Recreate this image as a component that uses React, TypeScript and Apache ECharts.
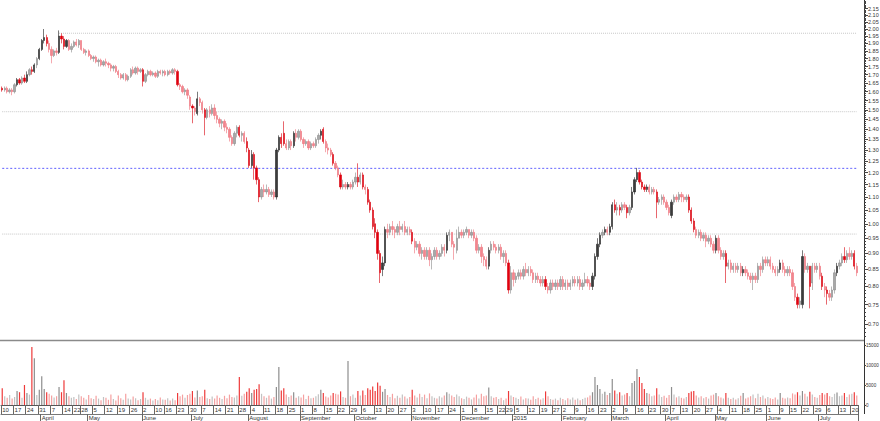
import React, { useEffect, useRef } from "react";
import * as echarts from "echarts";

// ---- calendar (ASX trading days) ----
const START_DATE = "2014-03-10";
const END_DATE = "2015-07-22";
const holidays = [
  "2014-04-18", "2014-04-21", "2014-04-25", "2014-06-09", "2014-12-25", "2014-12-26",
  "2015-01-01", "2015-01-26", "2015-04-03", "2015-04-06", "2015-06-08",
];
const monthNames = ["2015", "February", "March", "April", "May", "June", "July", "August", "September", "October", "November", "December"];

// ---- price data (one row per week) ----
const openP = [
  1.62, 1.61, 1.62, 1.60, 1.61,
  1.60, 1.64, 1.67, 1.65, 1.68,
  1.66, 1.70, 1.73, 1.72, 1.76,
  1.80, 1.86, 1.92, 1.94, 1.90,
  1.86, 1.82, 1.85, 1.84, 1.95,
  1.93, 1.88, 1.92, 1.86,
  1.88, 1.91, 1.89,
  1.92, 1.86, 1.84, 1.85, 1.82,
  1.80, 1.81, 1.78, 1.79, 1.76,
  1.78, 1.77, 1.76, 1.74, 1.75,
  1.72, 1.70, 1.68, 1.70, 1.67,
  1.69, 1.73, 1.71, 1.74, 1.72,
  1.73, 1.66, 1.70, 1.72, 1.70,
  1.71, 1.69, 1.72, 1.71,
  1.72, 1.70, 1.72, 1.71, 1.73,
  1.72, 1.64, 1.63, 1.60, 1.61,
  1.57, 1.52, 1.51, 1.48, 1.56,
  1.54, 1.50, 1.46, 1.50, 1.48,
  1.51, 1.47, 1.45, 1.43, 1.44,
  1.41, 1.40, 1.36, 1.33, 1.38,
  1.41, 1.37, 1.38, 1.34, 1.30,
  1.23, 1.28, 1.22, 1.17, 1.10,
  1.13, 1.12, 1.13, 1.11, 1.12,
  1.10, 1.30, 1.36, 1.38, 1.33,
  1.31, 1.34, 1.32, 1.38, 1.36,
  1.39, 1.35, 1.33, 1.34, 1.31,
  1.33, 1.32, 1.35, 1.37, 1.40,
  1.34, 1.31, 1.30, 1.28, 1.24,
  1.22, 1.19, 1.14, 1.15, 1.14,
  1.15, 1.14, 1.16, 1.18, 1.16,
  1.19, 1.14, 1.13, 1.08, 1.05,
  1.00, 0.97, 0.90, 0.85, 0.87,
  0.98, 0.97, 0.99, 0.98, 0.97,
  0.99, 0.98, 0.99, 0.97, 0.98,
  0.97, 0.94, 0.92, 0.93, 0.90,
  0.91, 0.89, 0.91, 0.88, 0.89,
  0.91, 0.89, 0.90, 0.92, 0.91,
  0.96, 0.97, 0.93, 0.91, 0.95,
  0.97, 0.96, 0.97, 0.98, 0.96,
  0.97, 0.95, 0.91, 0.92, 0.89,
  0.88, 0.86, 0.91, 0.93, 0.92,
  0.91, 0.92, 0.89,
  0.90, 0.87, 0.79, 0.84,
  0.82, 0.83, 0.84, 0.83, 0.85,
  0.84, 0.85, 0.84, 0.82, 0.83,
  0.82, 0.81, 0.82, 0.80, 0.79,
  0.81, 0.80, 0.81, 0.80,
  0.82, 0.80, 0.81, 0.80, 0.81,
  0.82, 0.81, 0.82, 0.80, 0.81,
  0.82, 0.81, 0.80, 0.83, 0.89,
  0.93, 0.96, 0.97, 0.98, 0.97,
  0.99, 1.07, 1.05, 1.06, 1.05,
  1.07, 1.06, 1.04, 1.06, 1.12,
  1.17, 1.20, 1.16, 1.14, 1.13,
  1.14, 1.12, 1.13, 1.12, 1.08,
  1.09, 1.10, 1.08, 1.06,
  1.03, 1.08, 1.10, 1.09,
  1.11, 1.10, 1.09, 1.10, 1.05,
  1.01, 0.98, 0.96, 0.97, 0.95,
  0.96, 0.94, 0.95, 0.93, 0.91,
  0.95, 0.91, 0.89, 0.90, 0.86,
  0.87, 0.85, 0.86, 0.85, 0.86,
  0.84, 0.85, 0.84, 0.83, 0.82,
  0.83, 0.82, 0.86, 0.85, 0.88,
  0.87, 0.88, 0.86, 0.85, 0.84,
  0.85, 0.87, 0.85, 0.84,
  0.85, 0.84, 0.80, 0.77, 0.75,
  0.75, 0.89, 0.85, 0.86, 0.81,
  0.86, 0.85, 0.86, 0.83, 0.80,
  0.79, 0.78, 0.77, 0.79, 0.84,
  0.86, 0.87, 0.89, 0.88, 0.90,
  0.89, 0.90, 0.86,
];
const closeP = [
  1.61, 1.62, 1.60, 1.61, 1.60,
  1.64, 1.67, 1.65, 1.68, 1.66,
  1.70, 1.73, 1.72, 1.76, 1.80,
  1.86, 1.92, 1.94, 1.90, 1.86,
  1.82, 1.85, 1.84, 1.95, 1.93,
  1.88, 1.92, 1.86, 1.88,
  1.91, 1.89, 1.92,
  1.86, 1.84, 1.85, 1.82, 1.80,
  1.81, 1.78, 1.79, 1.76, 1.78,
  1.77, 1.76, 1.74, 1.75, 1.72,
  1.70, 1.68, 1.70, 1.67, 1.69,
  1.73, 1.71, 1.74, 1.72, 1.73,
  1.66, 1.70, 1.72, 1.70, 1.71,
  1.69, 1.72, 1.71, 1.72,
  1.70, 1.72, 1.71, 1.73, 1.72,
  1.64, 1.63, 1.60, 1.61, 1.58,
  1.52, 1.51, 1.49, 1.56, 1.54,
  1.50, 1.46, 1.50, 1.48, 1.51,
  1.47, 1.45, 1.43, 1.44, 1.41,
  1.40, 1.36, 1.33, 1.38, 1.41,
  1.37, 1.38, 1.34, 1.31, 1.23,
  1.28, 1.22, 1.17, 1.10, 1.13,
  1.12, 1.13, 1.11, 1.12, 1.10,
  1.30, 1.36, 1.33, 1.33, 1.31,
  1.34, 1.32, 1.38, 1.36, 1.39,
  1.35, 1.33, 1.34, 1.31, 1.33,
  1.32, 1.35, 1.37, 1.39, 1.34,
  1.31, 1.30, 1.28, 1.24, 1.22,
  1.19, 1.14, 1.15, 1.14, 1.15,
  1.14, 1.16, 1.18, 1.16, 1.19,
  1.14, 1.13, 1.08, 1.05, 0.99,
  0.97, 0.90, 0.84, 0.87, 0.98,
  0.97, 0.99, 0.98, 0.97, 0.99,
  0.98, 0.99, 0.97, 0.98, 0.97,
  0.94, 0.92, 0.93, 0.90, 0.91,
  0.89, 0.91, 0.88, 0.89, 0.91,
  0.89, 0.90, 0.92, 0.91, 0.96,
  0.97, 0.93, 0.92, 0.95, 0.97,
  0.96, 0.97, 0.98, 0.96, 0.97,
  0.95, 0.91, 0.92, 0.89, 0.88,
  0.86, 0.91, 0.93, 0.92, 0.91,
  0.92, 0.89, 0.90,
  0.87, 0.79, 0.84, 0.82,
  0.83, 0.84, 0.83, 0.85, 0.84,
  0.85, 0.84, 0.82, 0.83, 0.82,
  0.81, 0.82, 0.80, 0.79, 0.81,
  0.80, 0.81, 0.80, 0.82,
  0.80, 0.81, 0.80, 0.81, 0.82,
  0.81, 0.82, 0.80, 0.81, 0.82,
  0.81, 0.80, 0.83, 0.89, 0.93,
  0.96, 0.97, 0.98, 0.97, 0.99,
  1.07, 1.05, 1.06, 1.05, 1.07,
  1.06, 1.04, 1.06, 1.12, 1.17,
  1.20, 1.16, 1.14, 1.13, 1.14,
  1.12, 1.13, 1.12, 1.08, 1.09,
  1.10, 1.08, 1.06, 1.04,
  1.08, 1.10, 1.09, 1.11,
  1.10, 1.09, 1.10, 1.05, 1.01,
  0.98, 0.96, 0.97, 0.95, 0.96,
  0.94, 0.95, 0.93, 0.91, 0.95,
  0.91, 0.89, 0.90, 0.86, 0.87,
  0.85, 0.86, 0.85, 0.86, 0.84,
  0.85, 0.84, 0.83, 0.82, 0.83,
  0.82, 0.86, 0.85, 0.88, 0.87,
  0.88, 0.86, 0.85, 0.84, 0.85,
  0.87, 0.85, 0.84, 0.85,
  0.84, 0.80, 0.77, 0.75, 0.76,
  0.89, 0.85, 0.86, 0.80, 0.86,
  0.85, 0.86, 0.83, 0.80, 0.79,
  0.78, 0.77, 0.79, 0.84, 0.86,
  0.87, 0.89, 0.88, 0.90, 0.89,
  0.90, 0.86, 0.84,
];
const lowP = [
  1.60, 1.60, 1.59, 1.59, 1.58,
  1.59, 1.63, 1.64, 1.64, 1.65,
  1.65, 1.69, 1.70, 1.71, 1.74,
  1.79, 1.85, 1.90, 1.88, 1.84,
  1.77, 1.81, 1.82, 1.83, 1.90,
  1.86, 1.87, 1.85, 1.84,
  1.87, 1.88, 1.87,
  1.85, 1.83, 1.82, 1.81, 1.79,
  1.78, 1.77, 1.75, 1.75, 1.75,
  1.75, 1.74, 1.72, 1.72, 1.71,
  1.68, 1.67, 1.67, 1.66, 1.66,
  1.68, 1.70, 1.70, 1.70, 1.71,
  1.63, 1.65, 1.69, 1.69, 1.69,
  1.68, 1.68, 1.70, 1.69,
  1.69, 1.69, 1.70, 1.70, 1.70,
  1.63, 1.61, 1.59, 1.58, 1.56,
  1.50, 1.43, 1.47, 1.47, 1.52,
  1.48, 1.37, 1.45, 1.46, 1.47,
  1.45, 1.43, 1.41, 1.40, 1.39,
  1.38, 1.34, 1.32, 1.32, 1.36,
  1.36, 1.34, 1.33, 1.29, 1.22,
  1.22, 1.17, 1.15, 1.08, 1.09,
  1.10, 1.11, 1.10, 1.10, 1.09,
  1.09, 1.29, 1.31, 1.32, 1.30,
  1.30, 1.30, 1.31, 1.34, 1.35,
  1.34, 1.31, 1.32, 1.30, 1.30,
  1.31, 1.31, 1.33, 1.35, 1.33,
  1.29, 1.28, 1.27, 1.23, 1.21,
  1.18, 1.13, 1.13, 1.13, 1.13,
  1.13, 1.13, 1.15, 1.14, 1.15,
  1.13, 1.11, 1.07, 1.04, 0.98,
  0.95, 0.88, 0.81, 0.83, 0.86,
  0.95, 0.96, 0.96, 0.95, 0.96,
  0.96, 0.97, 0.96, 0.96, 0.96,
  0.93, 0.90, 0.91, 0.89, 0.88,
  0.88, 0.88, 0.86, 0.85, 0.88,
  0.88, 0.88, 0.89, 0.89, 0.90,
  0.94, 0.92, 0.88, 0.90, 0.95,
  0.95, 0.95, 0.96, 0.95, 0.95,
  0.94, 0.90, 0.90, 0.87, 0.86,
  0.85, 0.85, 0.90, 0.91, 0.90,
  0.90, 0.88, 0.87,
  0.86, 0.78, 0.78, 0.80,
  0.81, 0.82, 0.82, 0.82, 0.83,
  0.83, 0.83, 0.81, 0.81, 0.81,
  0.80, 0.80, 0.79, 0.78, 0.78,
  0.79, 0.79, 0.79, 0.79,
  0.79, 0.79, 0.79, 0.79, 0.80,
  0.80, 0.80, 0.79, 0.79, 0.80,
  0.80, 0.79, 0.79, 0.82, 0.88,
  0.92, 0.95, 0.96, 0.96, 0.96,
  0.98, 1.04, 1.03, 1.03, 1.04,
  1.05, 1.02, 1.03, 1.05, 1.11,
  1.16, 1.15, 1.13, 1.12, 1.12,
  1.11, 1.11, 1.11, 1.02, 1.07,
  1.07, 1.07, 1.05, 1.03,
  1.02, 1.07, 1.08, 1.08,
  1.08, 1.08, 1.08, 1.04, 1.00,
  0.97, 0.95, 0.95, 0.94, 0.94,
  0.92, 0.93, 0.92, 0.90, 0.90,
  0.90, 0.88, 0.88, 0.81, 0.85,
  0.84, 0.84, 0.84, 0.84, 0.83,
  0.83, 0.83, 0.82, 0.81, 0.79,
  0.81, 0.81, 0.83, 0.84, 0.86,
  0.86, 0.85, 0.84, 0.83, 0.83,
  0.84, 0.84, 0.83, 0.83,
  0.83, 0.79, 0.76, 0.74, 0.74,
  0.74, 0.84, 0.84, 0.74, 0.79,
  0.84, 0.84, 0.82, 0.79, 0.77,
  0.75, 0.76, 0.76, 0.78, 0.83,
  0.85, 0.86, 0.87, 0.87, 0.88,
  0.88, 0.85, 0.83,
];
const highP = [
  1.63, 1.63, 1.63, 1.62, 1.62,
  1.65, 1.68, 1.68, 1.69, 1.70,
  1.72, 1.74, 1.75, 1.77, 1.81,
  1.87, 1.93, 2.00, 1.96, 1.92,
  1.88, 1.86, 1.87, 1.99, 1.97,
  1.95, 1.93, 1.93, 1.90,
  1.92, 1.93, 1.93,
  1.92, 1.87, 1.86, 1.86, 1.83,
  1.82, 1.82, 1.80, 1.80, 1.79,
  1.80, 1.78, 1.77, 1.76, 1.76,
  1.73, 1.71, 1.71, 1.71, 1.70,
  1.74, 1.75, 1.75, 1.75, 1.74,
  1.74, 1.71, 1.73, 1.73, 1.72,
  1.72, 1.73, 1.73, 1.73,
  1.73, 1.73, 1.73, 1.74, 1.74,
  1.73, 1.65, 1.64, 1.62, 1.62,
  1.58, 1.53, 1.52, 1.60, 1.57,
  1.55, 1.51, 1.51, 1.52, 1.53,
  1.53, 1.49, 1.46, 1.45, 1.45,
  1.43, 1.41, 1.37, 1.39, 1.42,
  1.42, 1.39, 1.39, 1.36, 1.31,
  1.30, 1.29, 1.23, 1.18, 1.14,
  1.15, 1.15, 1.14, 1.13, 1.13,
  1.31, 1.37, 1.38, 1.44, 1.35,
  1.35, 1.35, 1.39, 1.40, 1.40,
  1.40, 1.36, 1.35, 1.35, 1.34,
  1.34, 1.36, 1.38, 1.40, 1.41,
  1.35, 1.33, 1.31, 1.29, 1.25,
  1.23, 1.20, 1.17, 1.16, 1.16,
  1.16, 1.17, 1.20, 1.24, 1.20,
  1.20, 1.15, 1.14, 1.09, 1.06,
  1.02, 0.98, 0.91, 0.89, 0.99,
  1.00, 1.00, 1.01, 0.99, 1.00,
  1.01, 1.00, 1.01, 0.99, 0.99,
  0.98, 0.95, 0.94, 0.94, 0.92,
  0.92, 0.92, 0.92, 0.90, 0.92,
  0.92, 0.91, 0.93, 0.93, 0.97,
  0.98, 0.97, 0.94, 0.98, 0.99,
  0.98, 0.98, 0.99, 0.98, 0.98,
  0.98, 0.96, 0.93, 0.93, 0.90,
  0.89, 0.92, 0.94, 0.94, 0.93,
  0.93, 0.93, 0.91,
  0.91, 0.88, 0.86, 0.85,
  0.84, 0.85, 0.85, 0.86, 0.87,
  0.86, 0.86, 0.85, 0.84, 0.84,
  0.83, 0.83, 0.83, 0.81, 0.82,
  0.82, 0.82, 0.82, 0.83,
  0.83, 0.82, 0.82, 0.82, 0.83,
  0.83, 0.83, 0.83, 0.82, 0.84,
  0.83, 0.82, 0.84, 0.90, 0.95,
  0.97, 0.98, 0.99, 0.99, 1.00,
  1.08, 1.09, 1.08, 1.07, 1.08,
  1.08, 1.07, 1.07, 1.14, 1.18,
  1.22, 1.21, 1.17, 1.15, 1.15,
  1.15, 1.14, 1.14, 1.13, 1.10,
  1.11, 1.11, 1.09, 1.07,
  1.09, 1.11, 1.11, 1.12,
  1.12, 1.11, 1.11, 1.11, 1.06,
  1.02, 0.99, 0.98, 0.98, 0.97,
  0.97, 0.96, 0.96, 0.94, 0.96,
  0.96, 0.92, 0.91, 0.91, 0.88,
  0.88, 0.87, 0.87, 0.87, 0.87,
  0.86, 0.86, 0.85, 0.84, 0.84,
  0.84, 0.87, 0.87, 0.89, 0.89,
  0.89, 0.89, 0.87, 0.86, 0.86,
  0.88, 0.88, 0.86, 0.86,
  0.86, 0.85, 0.81, 0.78, 0.77,
  0.91, 0.90, 0.87, 0.86, 0.87,
  0.87, 0.87, 0.87, 0.84, 0.81,
  0.80, 0.79, 0.80, 0.85, 0.87,
  0.88, 0.90, 0.92, 0.91, 0.92,
  0.91, 0.91, 0.87,
];
const volume = [
  4200, 2200, 1800, 2500, 1600,
  2000, 3500, 3200, 1800, 5000,
  3000, 2600, 14500, 11700, 2500,
  3800, 7200, 4000, 3200, 2800,
  2400, 1900, 2200, 4500, 3200,
  6200, 3000, 2200, 1800,
  2000, 1500, 2600,
  2200, 1800, 1400, 2500, 1700,
  1500, 2300, 1600, 1200, 2000,
  1800, 1300, 2600, 1500, 1100,
  2400, 1700, 1300, 2800, 1600,
  1400, 2100, 1700, 1200, 1500,
  3200, 1800, 1300, 1600, 1100,
  1500, 1200, 1900, 1400,
  1300, 1700, 1100, 1600, 1200,
  3000, 2200, 2600, 1800, 2500,
  2800, 3500, 1900, 3600, 2000,
  2200, 3800, 1700, 1500, 2100,
  1600, 2400, 1800, 1500, 2300,
  1700, 2600, 2000, 1900, 2400,
  7000, 2300, 2800, 3300, 4200,
  3000, 3800, 4000, 5200, 2800,
  2200, 1800, 2400, 1600, 2000,
  4500, 9500, 3600, 4200, 2600,
  2000, 2400, 3200, 1800, 2200,
  1900, 2600, 1500, 2300, 1700,
  1800, 2200, 2700, 3800, 3000,
  2100, 1900, 2400, 3000, 2800,
  2600, 3400, 2000, 1800, 11000,
  2200, 2600, 1800, 3500, 2400,
  3600, 2500, 4200, 3800, 4600,
  3500, 5600, 4800, 3300, 4000,
  2500, 2000, 2800, 1700, 2300,
  1800, 2600, 2100, 1600, 2000,
  3800, 2400, 1900, 2800, 2000,
  2600, 1700, 2900, 2200, 1800,
  1600, 2200, 1900, 2400, 3200,
  2800, 2400, 2000, 2600, 2200,
  1700, 1500, 2100, 1800, 1400,
  1900, 2600, 1600, 2800, 2200,
  2400, 4400, 2200, 1800, 2000,
  1500, 1800, 1200,
  1600, 3500, 2400, 2000,
  1800, 1500, 2100, 1400, 1700,
  1600, 1300, 2200, 1500, 1800,
  1400, 1700, 3400, 2200, 1500,
  1300, 1600, 1200, 1800,
  1500, 1200, 1700, 1400, 1900,
  1300, 1600, 1200, 1500, 1800,
  1900, 2400, 3200, 7000, 5000,
  4000, 2800, 3300, 2500, 3000,
  6500, 3600, 2800, 3200, 2400,
  2600, 3000, 2200, 5500, 6000,
  9000, 7000, 5500, 4000, 3000,
  2800, 2200, 2400, 4200, 2600,
  2000, 2300, 1800, 2500,
  4500, 2600, 1900, 2200,
  1800, 1600, 2000, 3000, 3400,
  3500, 2400, 1900, 2200, 1700,
  2000, 1600, 2400, 2600, 3000,
  2200, 1900, 1600, 3000, 1800,
  1500, 1800, 1400, 1700, 2300,
  3000, 1600, 1900, 2200, 2600,
  1700, 2800, 2000, 2400, 1600,
  2000, 1700, 1500, 1900, 1400,
  3000, 1800, 1600, 1900,
  1700, 2900, 2600, 3200, 2400,
  3500, 2800, 2100, 3300, 2600,
  2000, 1800, 2500, 3000, 2600,
  3000, 2200, 2000, 2800, 3100,
  2200, 2400, 3000, 2000, 2600,
  2800, 3200, 2400,
];

// ---- axis tick labels ----
const priceTickLabels = [
  "2.15", "2.10", "2.05", "2.00", "1.95", "1.90", "1.85", "1.80", "1.75", "1.70",
  "1.65", "1.60", "1.55", "1.50", "1.45", "1.40", "1.35", "1.30", "1.25", "1.20",
  "1.15", "1.10", "1.05", "1.00", "0.95", "0.90", "0.85", "0.80", "0.75", "0.70",
];
const volumeTickLabels = [0, 5000, 10000, 15000];

// ---- reference levels ----
const grayLevels = [1.49, 0.964];
const blueLevel = 1.218;
const topLevel = 1.97;
const topLevelStartIndex = 23;

function buildDates(): Date[] {
  const out: Date[] = [];
  const hs = new Set(holidays);
  const d = new Date(START_DATE + "T00:00:00Z");
  const end = new Date(END_DATE + "T00:00:00Z");
  while (d.getTime() <= end.getTime()) {
    const wd = d.getUTCDay();
    const key = d.toISOString().slice(0, 10);
    if (wd !== 0 && wd !== 6 && !hs.has(key)) out.push(new Date(d.getTime()));
    d.setUTCDate(d.getUTCDate() + 1);
  }
  return out;
}

export default function App() {
  const ref = useRef<HTMLDivElement>(null);
  useEffect(() => {
    if (!ref.current) return;
    const chart = echarts.init(ref.current, undefined, { renderer: "svg" });
    const dates = buildDates();
    const cats = dates.map((d) => d.toISOString().slice(0, 10));
    const isWeekStart = dates.map((d, i) => {
      if (i === 0) return true;
      const p = dates[i - 1];
      return d.getUTCDay() < p.getUTCDay() || d.getTime() - p.getTime() >= 7 * 86400000;
    });
    const isMonthStart = dates.map((d, i) => i > 0 && d.getUTCMonth() !== dates[i - 1].getUTCMonth());

    const LN_MIN = Math.log(0.7) - 16 / 281;
    const LN_MAX = Math.log(0.7) + 324 / 281;
    const majorTicks = priceTickLabels.map((s) => Math.log(parseFloat(s)));
    const minorTicks: number[] = [];
    for (let c = 67; c <= 223; c++) minorTicks.push(Math.log(c / 100));

    const n = cats.length;
    const candles = [] as any[];
    const vols = [] as any[];
    for (let i = 0; i < n; i++) {
      const up = closeP[i] >= openP[i];
      const heavy = volume[i] >= 3000;
      const fill = up ? (heavy ? "#3c3c3c" : "#a8a8a8") : heavy ? "#e2000e" : "#f2868e";
      const border = up ? (heavy ? "#222222" : "#8a8a8a") : heavy ? "#d8000c" : "#ee6f78";
      candles.push({
        value: [Math.log(openP[i]), Math.log(closeP[i]), Math.log(lowP[i]), Math.log(highP[i])],
        itemStyle: { color: fill, color0: fill, borderColor: border, borderColor0: border },
      });
      const vc = up ? (heavy ? "#8e8e8e" : "#c2c2c2") : heavy ? "#ee3a3a" : "#f5a0a0";
      vols.push({ value: volume[i], itemStyle: { color: vc } });
    }

    const font = "Liberation Sans, Arial, sans-serif";
    const levelLine = (level: number, startIndex: number, color: string, type: any) => ({
      type: "line", xAxisIndex: 0, yAxisIndex: 0, silent: true, showSymbol: false, symbol: "none",
      data: cats.map((_, i) => (i >= startIndex ? Math.log(level) : "-")),
      lineStyle: { color, type, width: 1 }, itemStyle: { color }, z: 1,
      emphasis: { disabled: true },
    });

    chart.setOption({
      animation: false,
      backgroundColor: "#ffffff",
      grid: [
        { left: 1, right: 22, top: 0, height: 340, containLabel: false, outerBoundsMode: "none" },
        { left: 1, right: 22, top: 342, height: 63, containLabel: false, outerBoundsMode: "none" },
      ],
      xAxis: [
        {
          type: "category", gridIndex: 0, data: cats, boundaryGap: true,
          axisLine: { show: false }, axisTick: { show: false }, axisLabel: { show: false }, splitLine: { show: false },
        },
        {
          type: "category", gridIndex: 1, data: cats, boundaryGap: true,
          axisLine: { show: true, lineStyle: { color: "#555", width: 1 } },
          axisTick: { show: true, interval: (i: number) => isWeekStart[i], length: 9, lineStyle: { color: "#666", width: 1 } },
          axisLabel: {
            show: true, interval: (i: number) => isWeekStart[i],
            formatter: (v: string) => String(parseInt(v.slice(8, 10), 10)),
            fontSize: 6, color: "#333", fontFamily: font, align: "left", margin: 2,
          },
          splitLine: { show: false },
        },
        {
          type: "category", gridIndex: 1, data: cats, boundaryGap: true, position: "bottom", offset: 9,
          axisLine: { show: true, lineStyle: { color: "#777", width: 1 } },
          axisTick: { show: true, interval: (i: number) => isMonthStart[i], length: 7, lineStyle: { color: "#666", width: 1 } },
          axisLabel: {
            show: true, interval: (i: number) => isMonthStart[i],
            formatter: (v: string) => monthNames[parseInt(v.slice(5, 7), 10) - 1],
            fontSize: 6, color: "#333", fontFamily: font, align: "left", margin: 1,
          },
          splitLine: { show: false },
        },
      ],
      yAxis: [
        {
          type: "value", gridIndex: 0, min: LN_MIN, max: LN_MAX, position: "right", offset: 6, scale: true,
          axisLine: { show: false }, splitLine: { show: false },
          axisTick: { show: true, customValues: minorTicks, length: 2, lineStyle: { color: "#444" } },
          axisLabel: {
            show: true, customValues: majorTicks, fontSize: 5.5, color: "#333", fontFamily: font, margin: 4,
            formatter: (v: number) => Math.exp(v).toFixed(2),
          },
        },
        {
          type: "value", gridIndex: 0, min: LN_MIN, max: LN_MAX, position: "right", offset: 6, scale: true,
          axisLine: { show: false }, splitLine: { show: false }, axisLabel: { show: false },
          axisTick: { show: true, customValues: majorTicks, length: 4, lineStyle: { color: "#444" } },
        },
        {
          type: "value", gridIndex: 1, min: 0, max: 15750, position: "right", offset: 6,
          axisLine: { show: false }, splitLine: { show: false },
          axisTick: { show: true, customValues: volumeTickLabels, length: 2, lineStyle: { color: "#444" } },
          axisLabel: {
            show: true, customValues: volumeTickLabels, fontSize: 4.6, color: "#333", fontFamily: font, margin: 2,
            formatter: (v: number) => String(v),
          },
        },
      ],
      series: [
        levelLine(grayLevels[0], 0, "#c6c6c6", "dotted"),
        levelLine(grayLevels[1], 0, "#c6c6c6", "dotted"),
        levelLine(topLevel, topLevelStartIndex, "#c6c6c6", "dotted"),
        levelLine(blueLevel, 0, "#5c5cff", [2, 2]),
        {
          type: "candlestick", xAxisIndex: 0, yAxisIndex: 0, data: candles, barWidth: 1.8, z: 3,
          itemStyle: { borderWidth: 0.6 },
        },
        {
          type: "bar", xAxisIndex: 1, yAxisIndex: 2, data: vols, barWidth: 1.2, barGap: "0%",
        },
      ],
      graphic: [
        { type: "line", silent: true, shape: { x1: 0, y1: 340.5, x2: 864, y2: 340.5 }, style: { stroke: "#8a8a8a", lineWidth: 1.5 } },
        { type: "line", silent: true, shape: { x1: 864.5, y1: 0, x2: 864.5, y2: 414 }, style: { stroke: "#333", lineWidth: 1 } },
      ],
    });
    return () => chart.dispose();
  }, []);
  return <div ref={ref} style={{ position: "fixed", left: 0, top: 0, width: 880, height: 421 }} />;
}
